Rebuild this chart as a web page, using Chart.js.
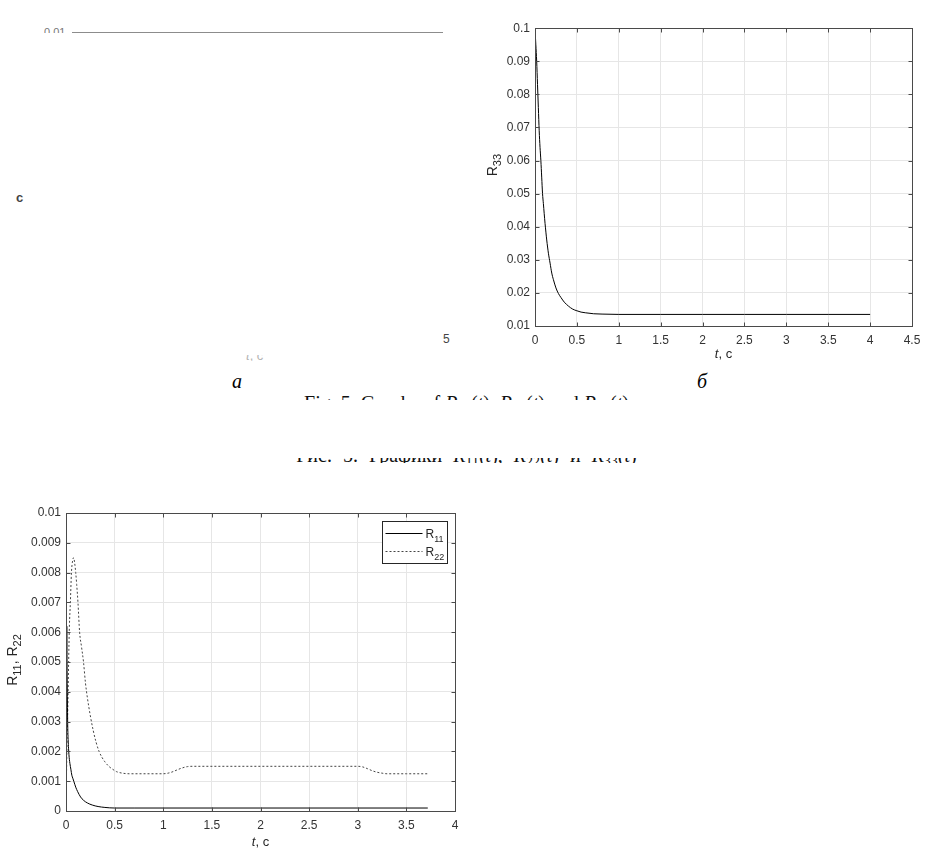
<!DOCTYPE html>
<html>
<head>
<meta charset="utf-8">
<script src="https://cdn.jsdelivr.net/npm/chart.js@4.4.0/dist/chart.umd.min.js"></script>
<style>
  html, body { margin: 0; padding: 0; background: #fff; }
  body { width: 933px; height: 853px; position: relative; overflow: hidden; font-family: "Liberation Sans", Arial, sans-serif; }
  .abs { position: absolute; }
  .clip { position: absolute; overflow: hidden; }
  .clip > div { position: absolute; left: 0; white-space: nowrap; }
  .serif { font-family: "Liberation Serif", "Times New Roman", serif; }
  sub { font-size: 70%; vertical-align: -0.25em; line-height: 0; }
</style>
</head>
<body>

<!-- panel a: washed-out scan, only fragments left -->
<div class="abs" style="left:72px; top:32px; width:371px; height:1px; background:#8c8c8c"></div>
<div class="clip" style="left:44px; top:27px; width:26px; height:6px;">
  <div style="top:0; font-size:11px; line-height:11px; color:#777">0.01</div>
</div>
<div class="abs" style="left:16px; top:191px; font-size:13px; line-height:13px; font-weight:bold; color:#444">c</div>
<div class="abs" style="left:443px; top:333px; font-size:12px; line-height:12px; color:#444">5</div>
<div class="clip" style="left:246px; top:355px; width:24px; height:6px;">
  <div style="top:-6px; font-size:13px; line-height:13px; color:#b5b5b5"><i>t</i>, c</div>
</div>
<div class="abs serif" style="left:232px; top:371px; font-size:20px; line-height:20px; font-style:italic">а</div>
<div class="abs serif" style="left:697px; top:371px; font-size:20px; line-height:20px; font-style:italic">б</div>

<!-- captions, half hidden in the scan -->
<div class="clip serif" style="left:0; top:393px; width:933px; height:7px;">
  <div style="top:0; width:933px; text-align:center; font-size:20px; line-height:20px; color:#111">Fig. 5. Graphs of <i>R</i><sub>11</sub>(<i>t</i>), <i>R</i><sub>22</sub>(<i>t</i>) and <i>R</i><sub>33</sub>(<i>t</i>)</div>
</div>
<div class="clip serif" style="left:0; top:458px; width:933px; height:5px;">
  <div style="top:-13px; width:933px; text-align:center; font-size:20px; line-height:20px; word-spacing:6px; color:#111">Рис. 5. Графики <i>R</i><sub>11</sub>(<i>t</i>), <i>R</i><sub>22</sub>(<i>t</i>) и <i>R</i><sub>33</sub>(<i>t</i>)</div>
</div>

<canvas id="chartB" class="abs" width="450" height="350" style="left:480px; top:16px"></canvas>
<canvas id="chartC" class="abs" width="470" height="355" style="left:0px; top:498px"></canvas>

<script>
// panel б: R33(t)
const t33 = [0, 0.01, 0.02, 0.03, 0.04, 0.05, 0.06, 0.07, 0.08, 0.09, 0.1, 0.12, 0.14, 0.16, 0.18, 0.2, 0.22, 0.25, 0.28, 0.31, 0.35, 0.4, 0.45, 0.5, 0.55, 0.6, 0.7, 0.8, 1, 1.5, 2, 2.5, 3, 3.5, 4];
const r33 = [0.0998, 0.095, 0.09, 0.083, 0.076, 0.069, 0.064, 0.06, 0.055, 0.05, 0.047, 0.041, 0.036, 0.032, 0.029, 0.026, 0.024, 0.0215, 0.0198, 0.0186, 0.0172, 0.016, 0.0151, 0.0146, 0.0142, 0.014, 0.0137, 0.0136, 0.0135, 0.0135, 0.0135, 0.0135, 0.0135, 0.0135, 0.0135];

// bottom panel: R11(t), R22(t)
const t11 = [0, 0.004, 0.008, 0.012, 0.017, 0.022, 0.03, 0.04, 0.05, 0.06, 0.07, 0.08, 0.1, 0.12, 0.15, 0.18, 0.22, 0.27, 0.33, 0.4, 0.5, 0.7, 1, 1.5, 2, 2.5, 3, 3.5, 3.72];
const r11 = [0, 0.004, 0.0062, 0.0045, 0.003, 0.0024, 0.0019, 0.0016, 0.0014, 0.0012, 0.0011, 0.001, 0.0008, 0.00065, 0.00047, 0.00036, 0.00027, 0.0002, 0.00015, 0.00012, 0.0001, 0.0001, 0.0001, 0.0001, 0.0001, 0.0001, 0.0001, 0.0001, 0.0001];
const t22 = [0, 0.005, 0.01, 0.02, 0.027, 0.035, 0.045, 0.056, 0.068, 0.078, 0.09, 0.1, 0.11, 0.123, 0.14, 0.16, 0.18, 0.2, 0.22, 0.25, 0.28, 0.31, 0.34, 0.37, 0.4, 0.44, 0.48, 0.52, 0.58, 0.65, 0.8, 1.0, 1.05, 1.1, 1.15, 1.2, 1.25, 1.3, 1.4, 2.0, 2.5, 3.0, 3.05, 3.1, 3.15, 3.2, 3.25, 3.3, 3.5, 3.72];
const r22 = [0, 0.0012, 0.0022, 0.0037, 0.005, 0.0062, 0.007, 0.008, 0.0084, 0.0085, 0.0083, 0.008, 0.0076, 0.007, 0.006, 0.0055, 0.005, 0.0043, 0.0038, 0.0032, 0.0027, 0.0023, 0.002, 0.0018, 0.00165, 0.0015, 0.0014, 0.00132, 0.00127, 0.00125, 0.00125, 0.00125, 0.00127, 0.00132, 0.00139, 0.00145, 0.00149, 0.0015, 0.0015, 0.0015, 0.0015, 0.0015, 0.00148, 0.00142, 0.00135, 0.0013, 0.00127, 0.00125, 0.00125, 0.00125];

const FONT = '"Liberation Sans", Arial, sans-serif';
const fmt = v => String(parseFloat(v.toFixed(4)));
const pts = (xs, ys) => xs.map((x, i) => ({ x: x, y: ys[i] }));

// parts: [text, subscript?, italic?]
function fontFor(p, size) {
  return (p[2] ? 'italic ' : '') + (p[1] ? Math.round(size * 0.78) : size) + 'px ' + FONT;
}
function drawRich(ctx, parts, x, y, size, center) {
  let w = 0;
  const ws = parts.map(p => { ctx.font = fontFor(p, size); const m = ctx.measureText(p[0]).width; w += m; return m; });
  let cx = center ? x - w / 2 : x;
  parts.forEach((p, i) => {
    ctx.font = fontFor(p, size);
    ctx.fillText(p[0], cx, y + (p[1] ? size * 0.3 : 0));
    cx += ws[i];
  });
}

// matlab-ish box, inner ticks, axis titles and legend
const matlab = {
  id: 'matlab',
  afterDraw(chart, args, o) {
    const { ctx, chartArea: a, scales } = chart;
    const L = Math.round(a.left) + 0.5, R = Math.round(a.right) + 0.5;
    const T = Math.round(a.top) + 0.5, B = Math.round(a.bottom) + 0.5;
    ctx.save();
    ctx.strokeStyle = '#4a4a4a';
    ctx.lineWidth = 1;
    ctx.strokeRect(L, T, R - L, B - T);
    ctx.beginPath();
    scales.x.ticks.forEach(t => {
      const px = Math.round(scales.x.getPixelForValue(t.value)) + 0.5;
      ctx.moveTo(px, B); ctx.lineTo(px, B - 4);
      ctx.moveTo(px, T); ctx.lineTo(px, T + 4);
    });
    scales.y.ticks.forEach(t => {
      const py = Math.round(scales.y.getPixelForValue(t.value)) + 0.5;
      ctx.moveTo(L, py); ctx.lineTo(L + 4, py);
      ctx.moveTo(R, py); ctx.lineTo(R - 4, py);
    });
    ctx.stroke();

    ctx.fillStyle = '#262626';
    ctx.textBaseline = 'alphabetic';
    ctx.textAlign = 'left';
    drawRich(ctx, o.xTitle, (a.left + a.right) / 2, a.bottom + o.xGap, 13, true);

    if (o.legend) {
      const bw = 65, bh = 42;
      const bx = Math.round(a.right - 8 - bw) + 0.5, by = Math.round(a.top + 8) + 0.5;
      ctx.fillStyle = '#fff';
      ctx.fillRect(bx, by, bw, bh);
      ctx.strokeStyle = '#262626';
      ctx.strokeRect(bx, by, bw, bh);
      chart.data.datasets.forEach((ds, i) => {
        const ly = by + 12 + 18 * i;
        ctx.beginPath();
        ctx.setLineDash(ds.borderDash || []);
        ctx.strokeStyle = ds.borderColor;
        ctx.moveTo(bx + 3, ly); ctx.lineTo(bx + 40, ly);
        ctx.stroke();
        ctx.setLineDash([]);
        ctx.fillStyle = '#262626';
        drawRich(ctx, ds.rich, bx + 43, ly + 4.5, 12, false);
      });
    }

    ctx.fillStyle = '#262626';
    ctx.translate(a.left - o.yGap, (a.top + a.bottom) / 2 + o.yShift);
    ctx.rotate(-Math.PI / 2);
    drawRich(ctx, o.yTitle, 0, 0, 14, true);
    ctx.restore();
  }
};

function axes(xmax, ymin, ymax, ystep, yw, xh) {
  const tick = { color: '#333', font: { size: 12, family: FONT } };
  return {
    x: {
      type: 'linear', min: 0, max: xmax,
      ticks: Object.assign({ stepSize: 0.5, padding: 7, maxRotation: 0, autoSkip: false, callback: fmt }, tick),
      grid: { color: '#e6e6e6', drawTicks: false },
      border: { display: false },
      afterFit: s => { s.height = xh; }
    },
    y: {
      min: ymin, max: ymax,
      ticks: Object.assign({ stepSize: ystep, padding: 5, autoSkip: false, callback: fmt }, tick),
      grid: { color: '#e6e6e6', drawTicks: false },
      border: { display: false },
      afterFit: s => { s.width = yw; }
    }
  };
}

new Chart(document.getElementById('chartB'), {
  type: 'line',
  data: {
    datasets: [{
      label: 'R33', data: pts(t33, r33),
      borderColor: '#000', borderWidth: 1, pointRadius: 0,
      cubicInterpolationMode: 'monotone', fill: false
    }]
  },
  options: {
    responsive: false, animation: false,
    layout: { padding: { top: 12, right: 18, left: 0, bottom: 0 } },
    plugins: {
      legend: { display: false }, tooltip: { enabled: false },
      matlab: { xTitle: [['t', 0, 1], [', c', 0, 0]], xGap: 32, yTitle: [['R', 0, 0], ['33', 1, 0]], yGap: 38, yShift: -12 }
    },
    scales: axes(4.5, 0.01, 0.1, 0.01, 55, 40)
  },
  plugins: [matlab]
});

new Chart(document.getElementById('chartC'), {
  type: 'line',
  data: {
    datasets: [{
      label: 'R11', rich: [['R', 0, 0], ['11', 1, 0]], data: pts(t11, r11),
      borderColor: '#000', borderWidth: 1, pointRadius: 0,
      cubicInterpolationMode: 'monotone', fill: false
    }, {
      label: 'R22', rich: [['R', 0, 0], ['22', 1, 0]], data: pts(t22, r22),
      borderColor: '#444', borderWidth: 1, borderDash: [2, 2], pointRadius: 0,
      cubicInterpolationMode: 'monotone', fill: false
    }]
  },
  options: {
    responsive: false, animation: false,
    layout: { padding: { top: 15, right: 15, left: 0, bottom: 0 } },
    plugins: {
      legend: { display: false }, tooltip: { enabled: false },
      matlab: {
        xTitle: [['t', 0, 1], [', c', 0, 0]], xGap: 35,
        yTitle: [['R', 0, 0], ['11', 1, 0], [', R', 0, 0], ['22', 1, 0]], yGap: 49, yShift: -2,
        legend: true
      }
    },
    scales: axes(4, 0, 0.01, 0.001, 66, 42)
  },
  plugins: [matlab]
});
</script>
</body>
</html>
